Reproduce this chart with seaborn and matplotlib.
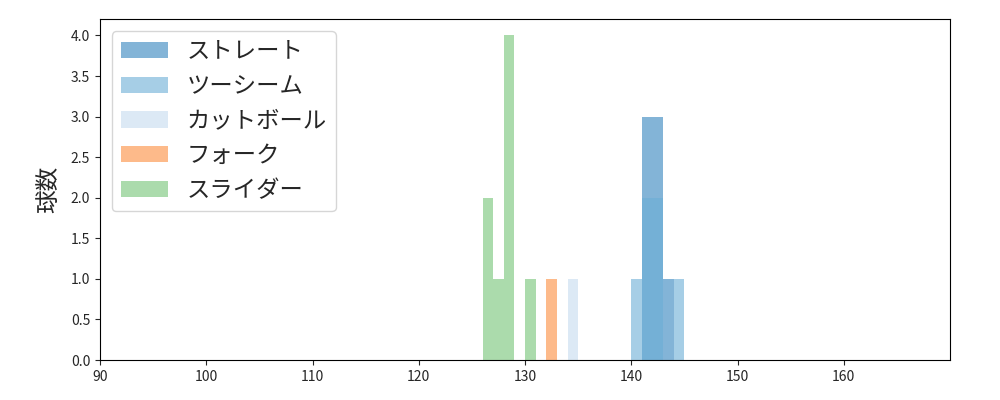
import numpy as np
import seaborn as sns
import matplotlib.pyplot as plt

sns.set_style("ticks")
plt.rcParams['font.family'] = ['Noto Sans CJK JP', 'DejaVu Sans']

# pitch speeds (km/h), one value per pitch
pitch_names = ["ストレート", "ツーシーム", "カットボール", "フォーク", "スライダー"]
straight = [141.5, 141.5, 141.5, 142.5, 142.5, 142.5, 143.5]
two_seam = [140.5, 141.5, 141.5, 142.5, 142.5, 144.5]
cutter = [134.5]
fork = [132.5]
slider = [126.5, 126.5, 127.5, 128.5, 128.5, 128.5, 128.5, 130.5]
colors = ["#3182bd", "#6baed6", "#c6dbef", "#fd8d3c", "#74c476"]

fig, ax = plt.subplots(figsize=(10, 4), dpi=100)
edges = np.arange(90, 171, 1)
for name, vals, c in zip(pitch_names, [straight, two_seam, cutter, fork, slider], colors):
    sns.histplot(x=vals, bins=edges, color=c, alpha=0.6, linewidth=0, label=name, ax=ax)

for s in ax.spines.values():
    s.set_color("black")
ax.set_xlim(90, 170)
ax.set_xticks(range(90, 170, 10))
ax.set_ylim(0, 4.2)
ax.set_yticks(np.arange(0, 4.01, 0.5))
ax.set_yticklabels([f"{v:.1f}" for v in np.arange(0, 4.01, 0.5)])
ax.set_xlabel("")
ax.set_ylabel("球数", fontsize=17, labelpad=8)
ax.legend(loc="upper left", fontsize=16.8)
fig.subplots_adjust(left=0.1, right=0.95, top=0.952, bottom=0.1)
fig.savefig("out.png")
